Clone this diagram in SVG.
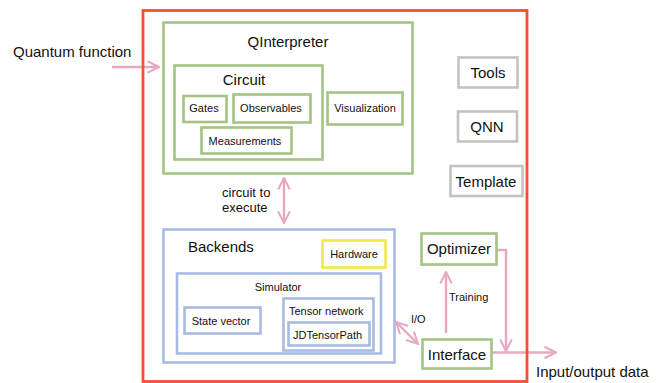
<svg xmlns="http://www.w3.org/2000/svg" width="662" height="383" viewBox="0 0 662 383">
  <style>
    text { font-family: "Liberation Sans", Arial, sans-serif; fill: #111; }
    .big { font-size: 15px; }
    .mid { font-size: 13px; }
    .sm { font-size: 11px; }
    .c { text-anchor: middle; }
    rect { fill: none; stroke-width: 2.6; }
    .g { stroke: #a3c483; }
    .b { stroke: #a9bbe2; }
    .gr { stroke: #c2c2c2; }
    .y { stroke: #f1e946; }
    .red { stroke: #ef5131; stroke-width: 2.8; }
    .conn { fill: none; stroke: #e9a8c2; stroke-width: 2.4; }
  </style>
  <defs>
    <marker id="chev" viewBox="0 0 10 10" refX="9" refY="5" markerWidth="6" markerHeight="6" markerUnits="strokeWidth" orient="auto-start-reverse">
      <path d="M1,1 L9,5 L1,9" fill="none" stroke="#e9a8c2" stroke-width="1.4"/>
    </marker>
  </defs>
  <rect width="662" height="383" fill="#fff" stroke="none"/>

  <!-- connectors -->
  <g id="connectors">
    <line class="conn" x1="112" y1="67" x2="159" y2="67" marker-end="url(#chev)"/>
    <line class="conn" x1="284" y1="178" x2="284" y2="223" marker-start="url(#chev)" marker-end="url(#chev)"/>
    <line class="conn" x1="396" y1="322" x2="418" y2="344" marker-start="url(#chev)" marker-end="url(#chev)"/>
    <line class="conn" x1="446" y1="333" x2="446" y2="272" marker-end="url(#chev)"/>
    <polyline class="conn" points="497,250 506,250 506,351" marker-end="url(#chev)"/>
    <line class="conn" x1="492" y1="352.5" x2="556" y2="352.5" marker-end="url(#chev)"/>
  </g>

  <!-- free labels -->
  <text class="big" x="13" y="57">Quantum function</text>
  <text class="mid" x="222" y="197">circuit to</text>
  <text class="mid" x="222" y="212">execute</text>
  <text class="sm" x="411" y="323">I/O</text>
  <text class="sm" x="449" y="301">Training</text>
  <text class="big" x="536" y="377">Input/output data</text>

  <!-- QInterpreter -->
  <g id="qinterpreter">
    <rect class="g" x="163.5" y="22.5" width="249" height="151"/>
    <text class="big c" x="288" y="47">QInterpreter</text>
  </g>
  <g id="circuit">
    <rect class="g" x="174.5" y="65.5" width="148" height="94"/>
    <text class="big c" x="244" y="85">Circuit</text>
  </g>
  <g id="gates">
    <rect class="g" x="183.5" y="96" width="43" height="26"/>
    <text class="sm c" x="204" y="112">Gates</text>
  </g>
  <g id="observables">
    <rect class="g" x="233.5" y="94.5" width="77" height="28"/>
    <text class="sm c" x="271" y="112">Observables</text>
  </g>
  <g id="measurements">
    <rect class="g" x="201.5" y="127.5" width="90" height="26"/>
    <text class="sm c" x="245" y="145">Measurements</text>
  </g>
  <g id="visualization">
    <rect class="g" x="327.5" y="92.5" width="75" height="32"/>
    <text class="sm c" x="365" y="112">Visualization</text>
  </g>

  <!-- side modules -->
  <g id="tools">
    <rect class="gr" x="458.5" y="57.5" width="59" height="30"/>
    <text class="big c" x="488" y="78">Tools</text>
  </g>
  <g id="qnn">
    <rect class="gr" x="458" y="111.5" width="59" height="30"/>
    <text class="big c" x="487" y="132">QNN</text>
  </g>
  <g id="template">
    <rect class="gr" x="450.5" y="166" width="72" height="30"/>
    <text class="big c" x="486" y="187">Template</text>
  </g>

  <!-- Backends -->
  <g id="backends">
    <rect class="b" x="163.5" y="229.5" width="231" height="133"/>
    <text class="big" x="188" y="252">Backends</text>
  </g>
  <g id="hardware">
    <rect class="y" x="322.5" y="240.5" width="63" height="27"/>
    <text class="sm c" x="354" y="258">Hardware</text>
  </g>
  <g id="simulator">
    <rect class="b" x="177" y="273.5" width="204" height="80"/>
    <text class="sm c" x="278" y="291">Simulator</text>
  </g>
  <g id="state-vector">
    <rect class="b" x="184.5" y="307.5" width="76" height="26"/>
    <text class="sm c" x="221" y="325">State vector</text>
  </g>
  <g id="tensor-network">
    <rect class="b" x="283.5" y="298.5" width="90" height="52"/>
    <text class="sm" x="289" y="315">Tensor network</text>
  </g>
  <g id="jdtensorpath">
    <rect class="b" x="288.5" y="322.5" width="81" height="23"/>
    <text class="sm" x="293" y="339">JDTensorPath</text>
  </g>

  <!-- training loop -->
  <g id="optimizer">
    <rect class="g" x="421.5" y="233.5" width="75" height="31"/>
    <text class="big c" x="459" y="254">Optimizer</text>
  </g>
  <g id="interface">
    <rect class="g" x="422.5" y="339.5" width="69" height="29"/>
    <text class="big c" x="457" y="360">Interface</text>
  </g>

  <!-- enclosing framework boundary -->
  <rect class="red" x="143" y="10.5" width="384" height="371"/>
</svg>
